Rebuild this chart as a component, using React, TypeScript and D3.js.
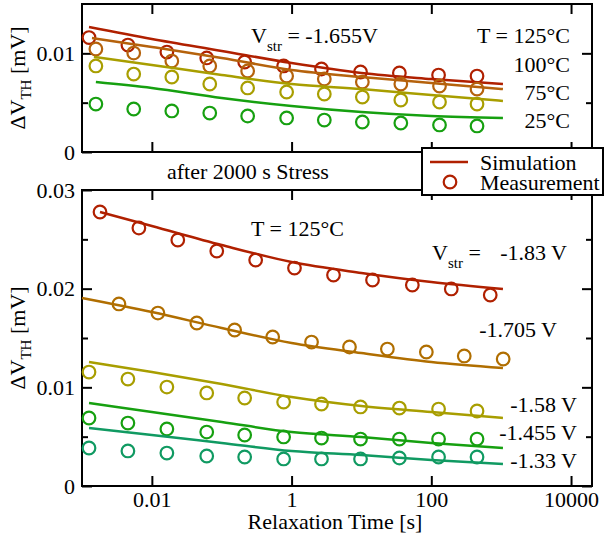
import React, { useEffect, useRef } from 'react'
import * as d3 from 'd3'

// relaxation times [s]
const simTimes = [0.01, 0.1, 1, 10, 100, 1060]
const measTimesTopA = [0.00126, 0.00454, 0.0164, 0.061, 0.213, 0.769, 2.68, 9.7, 34.9, 127, 451]
const measTimesTopB = [0.00158, 0.0055, 0.0193, 0.0674, 0.235, 0.849, 2.94, 10.3, 36.6, 131, 451]
const measTimes183 = [0.00181, 0.00652, 0.0235, 0.0849, 0.306, 1.1, 3.98, 14.4, 53.5, 193, 697]
const measTimes1705 = [0.00338, 0.0122, 0.044, 0.153, 0.536, 1.93, 6.74, 23.5, 84.9, 296, 1068]
const measTimesLow = [0.00126, 0.00454, 0.0164, 0.061, 0.213, 0.769, 2.68, 9.7, 34.9, 127, 451]

// top panel: temperatures at Vstr = -1.655V
const tempLabels = ['T = 125°C', '100°C', '75°C', '25°C']
const tempColors = ['#b02000', '#b5620c', '#a89e00', '#16a010']
const tempSimStart = [0.00126, 0.00139, 0.00148, 0.00158]
const tempSim = [
  [0.01267, 0.01145, 0.01024, 0.00902, 0.00801, 0.0074, 0.00689],
  [0.01155, 0.01064, 0.00953, 0.00831, 0.0076, 0.00699, 0.00638],
  [0.00963, 0.00882, 0.0078, 0.00689, 0.00638, 0.00578, 0.00517],
  [0.00709, 0.00649, 0.00547, 0.00466, 0.00405, 0.00365, 0.00345],
]
const tempMeas = [
  [0.0116, 0.01084, 0.01013, 0.00953, 0.00912, 0.00872, 0.00841, 0.00811, 0.00801, 0.0078, 0.0077],
  [0.01044, 0.01003, 0.00922, 0.00872, 0.00821, 0.0077, 0.0074, 0.00709, 0.00689, 0.00669, 0.00638],
  [0.00872, 0.0079, 0.0076, 0.00689, 0.00649, 0.00608, 0.00588, 0.00557, 0.00527, 0.00507, 0.00486],
  [0.00486, 0.00436, 0.00416, 0.00395, 0.00365, 0.00345, 0.00324, 0.00304, 0.00294, 0.00274, 0.00264],
]

// bottom panel: stress voltages at T = 125°C
const voltLabels = ['-1.83 V', '-1.705 V', '-1.58 V', '-1.455 V', '-1.33 V']
const voltColors = ['#b02000', '#b06e00', '#a89e00', '#16a010', '#109a62']
const voltSimStart = [0.00181, 0.001, 0.00126, 0.00126, 0.00126]
const voltSim = [
  [0.02777, 0.02635, 0.02442, 0.0227, 0.02159, 0.02067, 0.01997],
  [0.01905, 0.01763, 0.01601, 0.01449, 0.01348, 0.01257, 0.01196],
  [0.01257, 0.01155, 0.01034, 0.00902, 0.00811, 0.0075, 0.00689],
  [0.00841, 0.0075, 0.00649, 0.00547, 0.00497, 0.00436, 0.00385],
  [0.00588, 0.00517, 0.00436, 0.00355, 0.00314, 0.00264, 0.00223],
]
const voltMeasTimes = [measTimes183, measTimes1705, measTimesLow, measTimesLow, measTimesLow]
const voltMeas = [
  [0.02777, 0.02615, 0.02493, 0.02382, 0.0229, 0.02209, 0.02138, 0.02088, 0.02037, 0.01997, 0.01936],
  [0.01845, 0.01753, 0.01652, 0.01581, 0.0151, 0.01459, 0.01409, 0.01388, 0.01358, 0.01318, 0.01287],
  [0.01155, 0.01084, 0.01003, 0.00943, 0.00892, 0.00851, 0.00831, 0.00801, 0.0079, 0.0078, 0.0076],
  [0.00689, 0.00638, 0.00578, 0.00547, 0.00517, 0.00497, 0.00486, 0.00476, 0.00476, 0.00476, 0.00476],
  [0.00385, 0.00355, 0.00334, 0.00304, 0.00294, 0.00274, 0.00274, 0.00274, 0.00284, 0.00294, 0.00294],
]

const xTicks = [0.01, 1, 100, 10000]
const topYTicks = [0, 0.01]
const topYMinor = [0.005]
const botYTicks = [0, 0.01, 0.02, 0.03]
const botYMinor = [0.005, 0.015, 0.025]

const FONT = "'Liberation Serif', 'Times New Roman', serif"
const FS = 22

export default function App() {
  const ref = useRef<SVGSVGElement>(null)

  useEffect(() => {
    const svg = d3.select(ref.current)
    svg.selectAll('*').remove()
    svg.attr('font-family', FONT)

    const left = 82, right = 592
    const x = d3.scaleLog().domain([0.001, Math.pow(10, 4.3)]).range([left, right])

    const drawPanel = (top: number, bottom: number, yMax: number, yTicks: number[], yMinor: number[], showXLabels: boolean) => {
      const y = d3.scaleLinear().domain([0, yMax]).range([bottom, top])
      const g = svg.append('g')
      const fmt = (d: any) => (d === 0 ? '0' : String(d))

      const axes: [any, number, number][] = [
        [d3.axisBottom(x).tickValues(xTicks).tickFormat(showXLabels ? (d: any) => String(d) : () => '').tickSize(-10).tickPadding(5), 0, bottom],
        [d3.axisTop(x).tickValues(xTicks).tickFormat(() => '').tickSize(-10), 0, top],
        [d3.axisLeft(y).tickValues(yTicks).tickFormat(fmt).tickSize(-10).tickPadding(7), left, 0],
        [d3.axisRight(y).tickValues(yTicks).tickFormat(() => '').tickSize(-10), right, 0],
        [d3.axisLeft(y).tickValues(yMinor).tickFormat(() => '').tickSize(-6), left, 0],
        [d3.axisRight(y).tickValues(yMinor).tickFormat(() => '').tickSize(-6), right, 0],
      ]
      axes.forEach(([ax, tx, ty]) => {
        const a = g.append('g').attr('transform', `translate(${tx},${ty})`).call(ax)
        a.attr('font-family', FONT).attr('font-size', FS)
        a.select('.domain').remove()
        a.selectAll('line').attr('stroke', '#000').attr('stroke-width', 2)
        a.selectAll('text').attr('fill', '#000')
      })
      g.append('rect').attr('x', left).attr('y', top).attr('width', right - left).attr('height', bottom - top)
        .attr('fill', 'none').attr('stroke', '#000').attr('stroke-width', 2)
      return { g, y }
    }

    const line = (y: any) => d3.line<[number, number]>().x(d => x(d[0])).y(d => y(d[1])).curve(d3.curveMonotoneX)

    const drawSeries = (g: any, y: any, simStart: number, sim: number[], mt: number[], mv: number[], color: string) => {
      const pts: [number, number][] = [simStart, ...simTimes].map((t, i) => [t, sim[i]])
      g.append('path').attr('d', line(y)(pts)).attr('fill', 'none').attr('stroke', color).attr('stroke-width', 2.5)
      g.selectAll(null).data(mt.map((t, i) => [t, mv[i]])).join('circle')
        .attr('cx', (d: any) => x(d[0])).attr('cy', (d: any) => y(d[1])).attr('r', 6.3)
        .attr('fill', 'none').attr('stroke', color).attr('stroke-width', 2.2)
    }

    // top panel
    const topP = drawPanel(4, 152, 0.015, topYTicks, topYMinor, false)
    tempSim.forEach((s, i) => drawSeries(topP.g, topP.y, tempSimStart[i], s, i === 0 ? measTimesTopA : measTimesTopB, tempMeas[i], tempColors[i]))

    // bottom panel
    const botP = drawPanel(190, 486, 0.03, botYTicks, botYMinor, true)
    voltSim.forEach((s, i) => drawSeries(botP.g, botP.y, voltSimStart[i], s, voltMeasTimes[i], voltMeas[i], voltColors[i]))

    const text = (tx: number, ty: number, s: string, anchor = 'start') =>
      svg.append('text').attr('x', tx).attr('y', ty).attr('font-size', FS).attr('text-anchor', anchor).text(s)

    const vstr = (tx: number, ty: number, rest: string) => {
      const t = svg.append('text').attr('x', tx).attr('y', ty).attr('font-size', FS)
      t.append('tspan').text('V')
      t.append('tspan').attr('font-size', 15).attr('dy', 8).text('str')
      t.append('tspan').attr('dy', -8).text(rest)
    }

    // top annotations
    vstr(251, 43, ' = -1.655V')
    const tempY = [43, 72, 100, 128]
    tempLabels.forEach((l, i) => text(570, tempY[i], l, 'end'))

    text(167, 179, 'after 2000 s Stress')

    // bottom annotations
    text(251, 236, 'T = 125°C')
    vstr(432, 260, ' =')
    const voltPos: [number, number][] = [[567, 260], [557, 337], [577, 412], [577, 440], [577, 468]]
    voltLabels.forEach((l, i) => text(voltPos[i][0], voltPos[i][1], l, 'end'))

    // axis titles
    const yTitle = (cy: number) => {
      const t = svg.append('text').attr('transform', `translate(25,${cy}) rotate(-90)`).attr('text-anchor', 'middle').attr('font-size', FS)
      t.append('tspan').text('ΔV')
      t.append('tspan').attr('font-size', 15).attr('dy', 6).text('TH')
      t.append('tspan').attr('dy', -6).text(' [mV]')
    }
    yTitle(78)
    yTitle(338)
    text(335, 529, 'Relaxation Time [s]', 'middle')

    // legend
    const lg = svg.append('g')
    lg.append('rect').attr('x', 422).attr('y', 148).attr('width', 181).attr('height', 47)
      .attr('fill', '#fff').attr('stroke', '#000').attr('stroke-width', 2)
    lg.append('line').attr('x1', 430).attr('x2', 468).attr('y1', 162).attr('y2', 162).attr('stroke', tempColors[0]).attr('stroke-width', 2.5)
    lg.append('circle').attr('cx', 450).attr('cy', 182).attr('r', 6.3).attr('fill', 'none').attr('stroke', tempColors[0]).attr('stroke-width', 2.2)
    lg.append('text').attr('x', 480).attr('y', 170).attr('font-size', FS).text('Simulation')
    lg.append('text').attr('x', 480).attr('y', 190).attr('font-size', FS).text('Measurement')
  }, [])

  return (
    <svg ref={ref} width={605} height={537} style={{ position: 'absolute', left: 0, top: 0, background: '#fff' }} />
  )
}
